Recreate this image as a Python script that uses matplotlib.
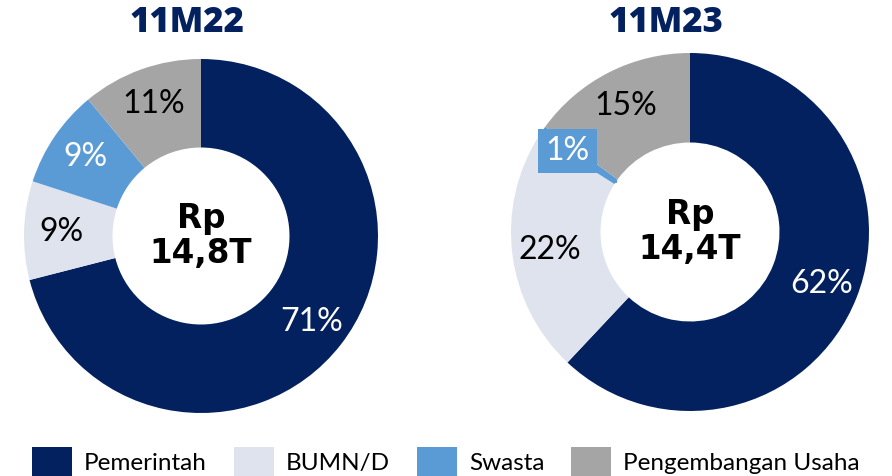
import numpy as np
import matplotlib.pyplot as plt
from matplotlib.patches import Patch

# Data
categories = ['Pemerintah', 'BUMN/D', 'Swasta', 'Pengembangan Usaha']
share_11m22 = [71, 9, 9, 11]
share_11m23 = [62, 22, 1, 15]
titles = ['11M22', '11M23']
totals = ['Rp\n14,8T', 'Rp\n14,4T']

colors = ['#03215F', '#DEE3EE', '#5B9BD5', '#A5A5A5']
label_colors = ['white', 'black', 'white', 'black']
navy = '#03215F'

label_font = 'Lato'
bold_font = 'DejaVu Sans'

fig = plt.figure(figsize=(8.92, 4.76), dpi=100)
W, H = 892, 476

# (center x, center y from top, radius) in pixels
layout = [(201, 236, 177), (690, 232, 179)]
title_x = [187, 666]

for i, values in enumerate([share_11m22, share_11m23]):
    cx, cy, r = layout[i]
    ax = fig.add_axes([(cx - r) / W, (H - cy - r) / H, 2 * r / W, 2 * r / H])
    wedges, texts, autotexts = ax.pie(
        values, colors=colors, startangle=90, counterclock=False,
        wedgeprops=dict(width=0.5, edgecolor='none'),
        autopct='%.0f%%', pctdistance=0.79,
        textprops=dict(fontsize=23, family=label_font))
    for t, c in zip(autotexts, label_colors):
        t.set_color(c)
    ax.set_xlim(-1, 1)
    ax.set_ylim(-1, 1)
    ax.set_aspect('equal')
    ax.axis('off')

    # small slice gets a boxed callout
    for w, v, t in zip(wedges, values, autotexts):
        if v < 3:
            t.set_visible(False)
            ang = np.deg2rad((w.theta1 + w.theta2) / 2)
            ax.annotate(f'{v}%', xy=(0.5 * np.cos(ang), 0.5 * np.sin(ang)),
                        xytext=(-0.684, 0.45), ha='center', va='center',
                        fontsize=23, family=label_font, color='white',
                        bbox=dict(boxstyle='square,pad=0.22', fc=colors[2], ec='none'),
                        arrowprops=dict(arrowstyle='-', color=colors[2], lw=2,
                                        shrinkA=0, shrinkB=0))

    ax.text(0, 0, totals[i], ha='center', va='center', fontsize=23.5,
            fontweight='bold', family=bold_font, linespacing=1.05, color='black')

    fig.text(title_x[i] / W, 1 - 23 / H, titles[i], ha='center', va='center',
             fontsize=25, fontweight='heavy', family='Open Sans', color=navy)

handles = [Patch(facecolor=c, edgecolor='none') for c in colors]
fig.legend(handles, categories, loc='center', bbox_to_anchor=(0.5, 1 - 462 / H),
           ncol=4, frameon=False, prop=dict(family=label_font, size=17.5),
           handlelength=1.65, handleheight=1.5, handletextpad=0.5,
           columnspacing=1.1, borderaxespad=0)

fig.savefig('out.png', dpi=100)
